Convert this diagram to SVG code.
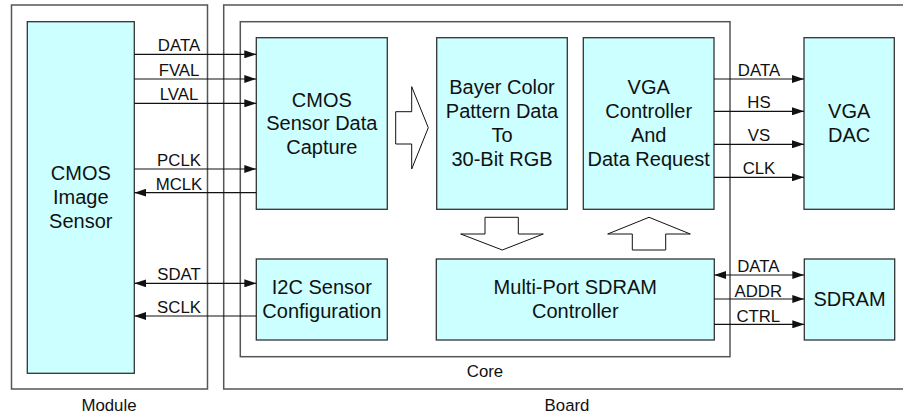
<svg xmlns="http://www.w3.org/2000/svg" width="903" height="415" viewBox="0 0 903 415">
<style>
.frame{fill:none;stroke:#555;stroke-width:1.5}
.box{fill:#ccffff;stroke:#333;stroke-width:1.3}
.big{font-family:"Liberation Sans",Arial,sans-serif;font-size:20px;fill:#111;text-anchor:middle}
.lbl{font-family:"Liberation Sans",Arial,sans-serif;font-size:16.8px;fill:#111;text-anchor:middle}
.wire{stroke:#111;stroke-width:1.2;fill:none}
.blk{fill:#fff;stroke:#111;stroke-width:1}
</style>
<defs>
<marker id="ah" markerWidth="12" markerHeight="8" refX="12" refY="4" orient="auto-start-reverse" markerUnits="userSpaceOnUse">
<path d="M0,0 L12,4 L0,8 Z" fill="#111"/>
</marker>
</defs>
<rect width="903" height="415" fill="#fff"/>
<g id="module-frame">
<rect class="frame" x="11.5" y="5" width="196" height="384"/>
<text class="lbl" x="109" y="411">Module</text>
</g>
<g id="board-frame">
<path class="frame" d="M910,5 L223.7,5 L223.7,389 L910,389"/>
<text class="lbl" x="567" y="411">Board</text>
</g>
<g id="core-frame">
<rect class="frame" x="240.3" y="21.7" width="489.7" height="335"/>
<text class="lbl" x="485" y="377">Core</text>
</g>
<g id="cmos-sensor">
<rect class="box" x="27.3" y="21.7" width="107" height="351.6"/>
<text class="big" x="80.8" y="180">CMOS</text>
<text class="big" x="80.8" y="204">Image</text>
<text class="big" x="80.8" y="228">Sensor</text>
</g>
<g id="capture">
<rect class="box" x="256.3" y="37.7" width="131" height="171.6"/>
<text class="big" x="321.8" y="106.5">CMOS</text>
<text class="big" x="321.8" y="130.2">Sensor Data</text>
<text class="big" x="321.8" y="153.9">Capture</text>
</g>
<g id="i2c">
<rect class="box" x="256.3" y="259" width="131" height="81"/>
<text class="big" x="321.8" y="294.3">I2C Sensor</text>
<text class="big" x="321.8" y="318.3">Configuration</text>
</g>
<g id="bayer">
<rect class="box" x="436.7" y="37.7" width="130.6" height="171.6"/>
<text class="big" x="502" y="94.3">Bayer Color</text>
<text class="big" x="502" y="118">Pattern Data</text>
<text class="big" x="502" y="141.7">To</text>
<text class="big" x="502" y="165.5">30-Bit RGB</text>
</g>
<g id="vga-ctrl">
<rect class="box" x="583.3" y="37.7" width="130.7" height="171.6"/>
<text class="big" x="648.7" y="94.3">VGA</text>
<text class="big" x="648.7" y="118">Controller</text>
<text class="big" x="648.7" y="141.7">And</text>
<text class="big" x="648.7" y="165.5">Data Request</text>
</g>
<g id="vga-dac">
<rect class="box" x="804" y="37.7" width="90.3" height="171.6"/>
<text class="big" x="849.2" y="118.3">VGA</text>
<text class="big" x="849.2" y="141.7">DAC</text>
</g>
<g id="sdram-ctrl">
<rect class="box" x="436.3" y="259" width="278" height="81"/>
<text class="big" x="575.3" y="294.3">Multi-Port SDRAM</text>
<text class="big" x="575.3" y="318.3">Controller</text>
</g>
<g id="sdram">
<rect class="box" x="804.3" y="259" width="90.4" height="81"/>
<text class="big" x="849.5" y="306">SDRAM</text>
</g>
<g id="connectors">
<line class="wire" x1="134.3" y1="54.3" x2="256.3" y2="54.3" marker-end="url(#ah)"/>
<line class="wire" x1="134.3" y1="79" x2="256.3" y2="79" marker-end="url(#ah)"/>
<line class="wire" x1="134.3" y1="103.3" x2="256.3" y2="103.3" marker-end="url(#ah)"/>
<line class="wire" x1="134.3" y1="169" x2="256.3" y2="169" marker-end="url(#ah)"/>
<line class="wire" x1="256.3" y1="192.7" x2="134.3" y2="192.7" marker-end="url(#ah)"/>
<line class="wire" x1="134.3" y1="283.3" x2="256.3" y2="283.3" marker-start="url(#ah)" marker-end="url(#ah)"/>
<line class="wire" x1="256.3" y1="316" x2="134.3" y2="316" marker-end="url(#ah)"/>
<line class="wire" x1="714" y1="79" x2="804" y2="79" marker-end="url(#ah)"/>
<line class="wire" x1="714" y1="111.3" x2="804" y2="111.3" marker-end="url(#ah)"/>
<line class="wire" x1="714" y1="144.3" x2="804" y2="144.3" marker-end="url(#ah)"/>
<line class="wire" x1="714" y1="177.3" x2="804" y2="177.3" marker-end="url(#ah)"/>
<line class="wire" x1="714.3" y1="275" x2="804.3" y2="275" marker-start="url(#ah)" marker-end="url(#ah)"/>
<line class="wire" x1="714.3" y1="299" x2="804.3" y2="299" marker-end="url(#ah)"/>
<line class="wire" x1="714.3" y1="324.3" x2="804.3" y2="324.3" marker-end="url(#ah)"/>
<path class="blk" d="M395.7,111.7 L411.7,111.7 L411.7,86.7 L428.3,127.7 L411.7,169 L411.7,144 L395.7,144 Z"/>
<path class="blk" d="M485,217.3 L518.3,217.3 L518.3,234 L543.3,234 L502.3,250 L460.7,234 L485,234 Z"/>
<path class="blk" d="M632.3,250 L665.7,250 L665.7,234 L690.3,234 L649,217.3 L607.7,234 L632.3,234 Z"/>
<text class="lbl" x="179" y="51">DATA</text>
<text class="lbl" x="179" y="75.7">FVAL</text>
<text class="lbl" x="179" y="100">LVAL</text>
<text class="lbl" x="179" y="165.7">PCLK</text>
<text class="lbl" x="179" y="190">MCLK</text>
<text class="lbl" x="179" y="280">SDAT</text>
<text class="lbl" x="179" y="312.7">SCLK</text>
<text class="lbl" x="759" y="76">DATA</text>
<text class="lbl" x="759" y="108.3">HS</text>
<text class="lbl" x="759" y="141">VS</text>
<text class="lbl" x="759" y="174">CLK</text>
<text class="lbl" x="758.3" y="271.7">DATA</text>
<text class="lbl" x="758.3" y="296.7">ADDR</text>
<text class="lbl" x="758.3" y="321.7">CTRL</text>
</g>
</svg>
